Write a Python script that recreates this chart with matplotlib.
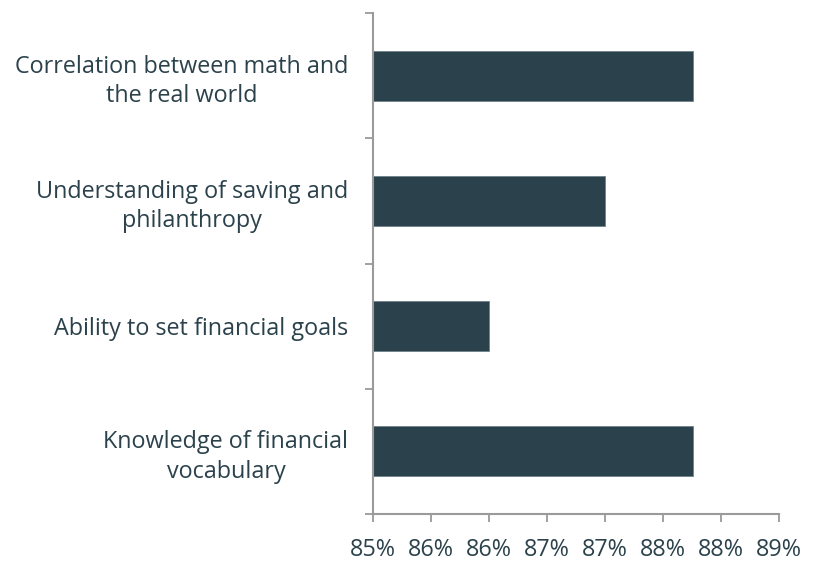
import matplotlib
matplotlib.use("Agg")
import matplotlib.pyplot as plt
import numpy as np

categories = ["Knowledge of financial\nvocabulary",
              "Ability to set financial goals",
              "Understanding of saving and\nphilanthropy",
              "Correlation between math and\nthe real world"]
values = [87.76, 86.0, 87.0, 87.76]
x_ticks = [85.0, 85.5, 86.0, 86.5, 87.0, 87.5, 88.0, 88.5]
x_tick_labels = ["85%", "86%", "86%", "87%", "87%", "88%", "88%", "89%"]

text_color = "#2B424C"
bar_color = "#2B424C"
axis_color = "#9A9A9A"

plt.rcParams['font.family'] = ['Open Sans', 'DejaVu Sans']

fig = plt.figure(figsize=(8.15, 5.64), dpi=100)
ax = fig.add_axes([372.7/815, 50/564, (778.7-372.7)/815, (514-13)/564])

y = np.arange(len(categories))
ax.barh(y, values, height=0.4, color=bar_color, edgecolor="#6E8088", linewidth=0.6, zorder=2)

ax.set_xlim(85, 88.5)
ax.set_ylim(-0.5, len(categories) - 0.5)

ax.set_xticks(x_ticks)
ax.set_xticklabels(x_tick_labels, fontsize=16.8, color=text_color)

ax.set_yticks(np.arange(-0.5, len(categories), 1.0))
ax.set_yticklabels([])
ax.set_yticks(y, minor=True)
ax.set_yticklabels(categories, minor=True, fontsize=16.8, color=text_color,
                   ha="right", multialignment="center", linespacing=1.3)
ax.tick_params(axis="y", which="minor", length=0, pad=17.5)
ax.tick_params(axis="y", which="major", length=6, width=1.3, color=axis_color, direction="out")
ax.tick_params(axis="x", which="major", length=6, width=1.3, color=axis_color, direction="out", pad=11)

for s in ["top", "right"]:
    ax.spines[s].set_visible(False)
for s in ["left", "bottom"]:
    ax.spines[s].set_color(axis_color)
    ax.spines[s].set_linewidth(1.5)

fig.savefig("out.png", dpi=100)
